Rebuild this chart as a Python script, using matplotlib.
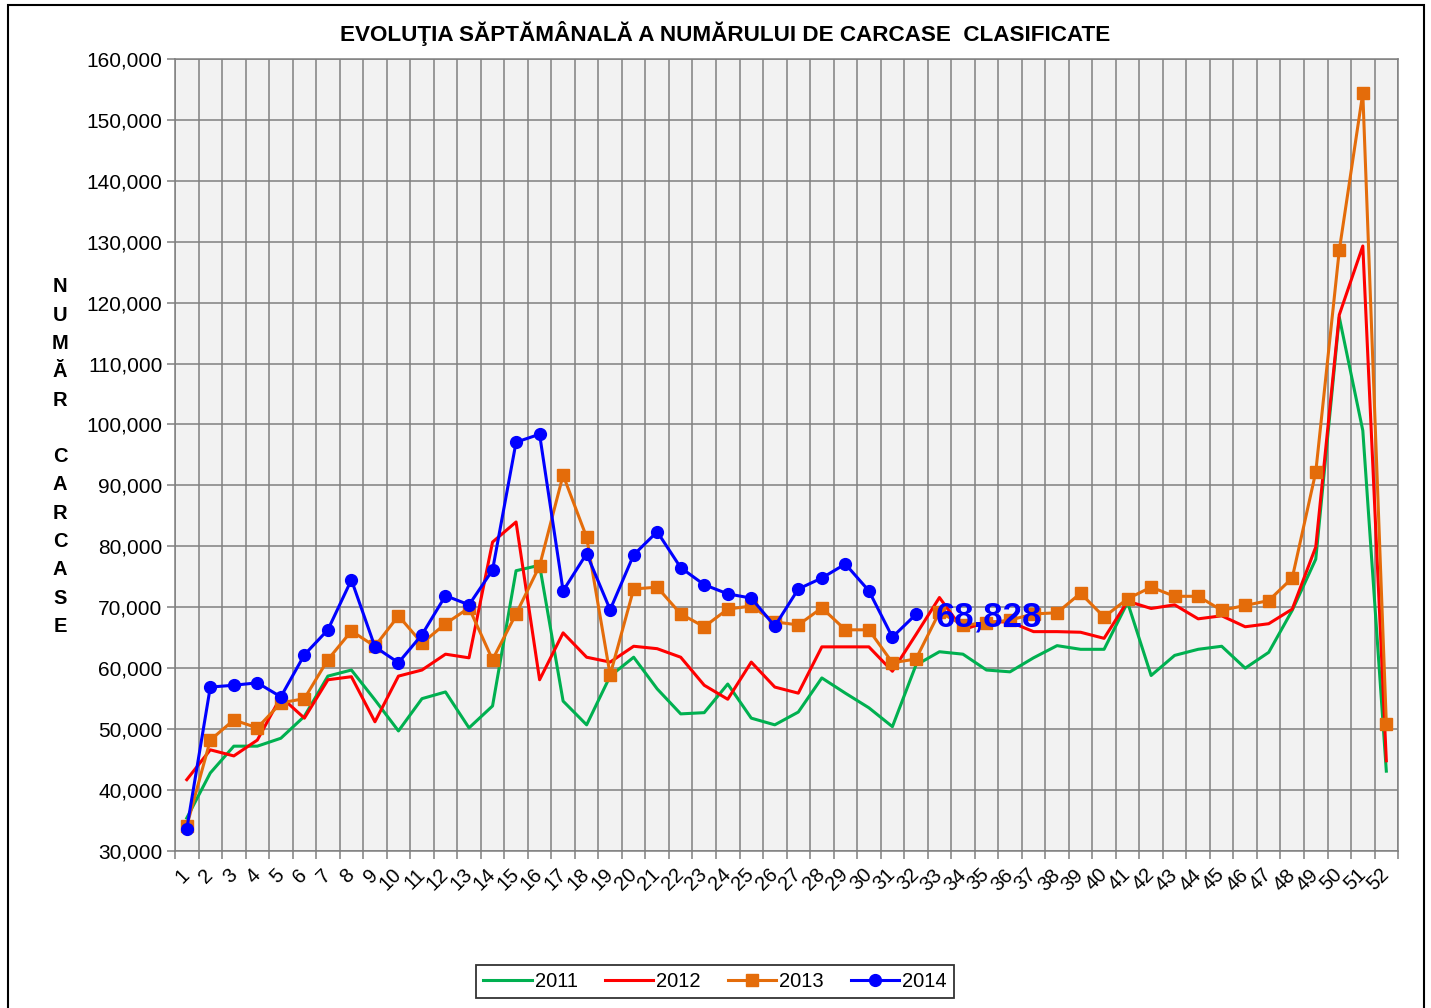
import numpy as np
import matplotlib.pyplot as plt
from matplotlib.patches import Rectangle
from matplotlib.ticker import FuncFormatter, MultipleLocator

plt.rcParams['font.family'] = ['Liberation Sans', 'DejaVu Sans']

weeks = list(range(1, 53))

y2011 = [35400, 42800, 47200, 47200, 48500, 52100, 58700, 59700, 54800, 49700,
         55000, 56100, 50200, 53800, 76000, 76900, 54600, 50700, 58700, 61800,
         56600, 52500, 52700, 57400, 51800, 50700, 52800, 58400, 55900, 53500,
         50400, 60500, 62700, 62300, 59700, 59400, 61700, 63700, 63100, 63100,
         70800, 58800, 62100, 63100, 63600, 60000, 62600, 69500, 77900, 117600,
         99000, 43100]

y2012 = [41700, 46600, 45600, 48200, 55300, 51800, 58100, 58600, 51200, 58700,
         59700, 62300, 61700, 80700, 84000, 58100, 65800, 61800, 61000, 63600,
         63200, 61800, 57200, 54900, 61000, 56900, 55900, 63500, 63500, 63500,
         59500, 65500, 71600, 66300, 67600, 67600, 66000, 66000, 65900, 64900,
         71000, 69800, 70400, 68100, 68600, 66800, 67300, 69700, 79900, 118000,
         129300, 44800]

y2013 = [34100, 48200, 51500, 50200, 54300, 55000, 61400, 66100, 63600, 68600,
         64100, 67300, 69900, 61400, 68900, 76800, 91700, 81500, 58900, 73000,
         73300, 68900, 66800, 69700, 70200, 67600, 67100, 69900, 66300, 66300,
         60900, 61500, 69200, 67100, 67400, 67900, 68900, 69100, 72300, 68400,
         71400, 73300, 71800, 71800, 69500, 70300, 71100, 74800, 92200, 128600,
         154400, 50900]

y2014 = [33600, 56900, 57200, 57600, 55300, 62200, 66300, 74500, 63500, 60900,
         65500, 71900, 70400, 76100, 97100, 98400, 72700, 78800, 69600, 78600,
         82400, 76500, 73700, 72200, 71500, 66900, 73000, 74800, 77100, 72700,
         65100, 68828]

fig = plt.figure(figsize=(14.31, 10.08), dpi=100)
ax = fig.add_axes([0.1223, 0.1558, 0.8547, 0.7857])
ax.set_facecolor('#F2F2F2')

ax.plot(weeks, y2011, color='#00B050', lw=2.2, label='2011', zorder=3)
ax.plot(weeks, y2012, color='#FF0000', lw=2.2, label='2012', zorder=4)
ax.plot(weeks, y2013, color='#E46C0A', lw=2.2, marker='s', ms=8.5,
        label='2013', zorder=5)
ax.plot(weeks[:len(y2014)], y2014, color='#0000FF', lw=2.2, marker='o', ms=8.5,
        label='2014', zorder=6)

ax.annotate(f"{y2014[-1]:,}", (len(y2014), y2014[-1]), xytext=(14, -2),
            textcoords='offset points', ha='left', va='center',
            fontsize=25, fontweight='bold', color='#0000FF', zorder=7)

ax.set_xlim(0.5, 52.5)
ax.set_ylim(30000, 160000)
ax.set_xticks(weeks)
ax.set_xticklabels([str(w) for w in weeks], rotation=45, ha='right',
                   va='center', rotation_mode='anchor', fontsize=14.5)
ax.xaxis.set_minor_locator(MultipleLocator(1, offset=0.5))
ax.tick_params(axis='x', which='major', length=0, pad=15)
ax.tick_params(axis='x', which='minor', length=6, color='#808080', width=1.1)
ax.yaxis.set_major_locator(MultipleLocator(10000))
ax.yaxis.set_major_formatter(FuncFormatter(lambda v, p: f"{int(v):,}"))
ax.tick_params(axis='y', length=6, color='#808080', width=1.1, labelsize=15,
               pad=3)

ax.grid(True, axis='y', which='major', color='#808080', lw=1.1)
ax.grid(True, axis='x', which='minor', color='#808080', lw=1.1)
ax.set_axisbelow(True)
for s in ax.spines.values():
    s.set_color('#808080')
    s.set_linewidth(1.1)

fig.text(0.5066, 0.967, 'EVOLUŢIA SĂPTĂMÂNALĂ A NUMĂRULUI DE CARCASE  CLASIFICATE',
         ha='center', va='center', fontsize=16.2, fontweight='bold')

fig.text(0.042, 0.547, 'N\nU\nM\nĂ\nR\n\nC\nA\nR\nC\nA\nS\nE', ha='center',
         va='center', fontsize=14.5, fontweight='bold', linespacing=1.62)

leg = fig.legend(loc='center', bbox_to_anchor=(0.4997, 0.026), ncol=4,
                 fontsize=14.5, frameon=True, fancybox=False, edgecolor='black',
                 handlelength=2.4, columnspacing=1.35, handletextpad=0.15,
                 borderpad=0.35, borderaxespad=0)
leg.get_frame().set_linewidth(1.3)

fig.patches.append(Rectangle((8 / 1431, -0.05), (1424 - 8) / 1431, 1.05 - 5 / 1008,
                             transform=fig.transFigure, fill=False,
                             edgecolor='black', lw=1.5))

fig.savefig('out.png', dpi=100)
